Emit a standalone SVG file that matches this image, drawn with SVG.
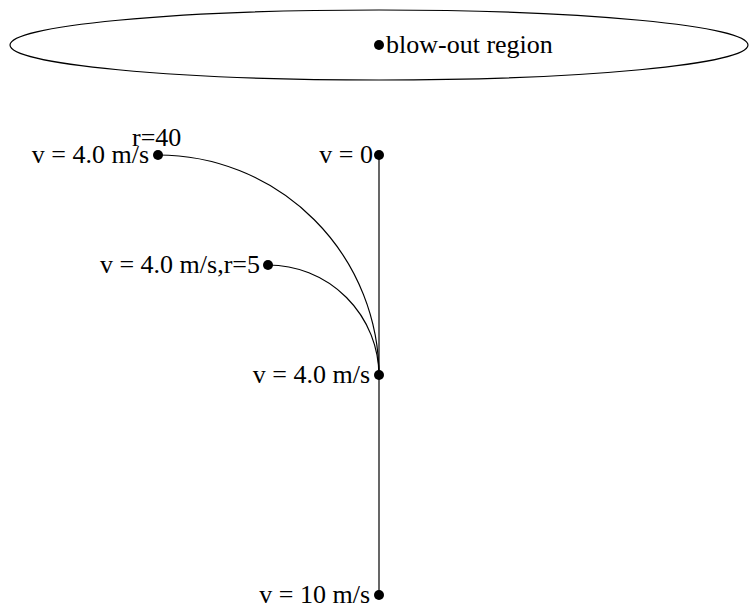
<svg xmlns="http://www.w3.org/2000/svg" width="751" height="608" viewBox="0 0 751 608">
<style>
.t{font-family:'Liberation Serif','Times New Roman',Times,serif;font-size:26px;fill:#000}
.e{fill:none;stroke:#000;stroke-width:1.2}
.d{fill:#000}
</style>
<rect width="751" height="608" fill="#fff"/>
<g id="blowout">
<ellipse class="e" cx="379" cy="45" rx="369" ry="35"/>
<circle class="d" cx="379" cy="45" r="5"/>
<text class="t" font-family="Liberation Serif, serif" x="386" y="53">blow-out region</text>
</g>
<g id="connectors">
<path class="e" d="M379,155 L379,595"/>
<path class="e" d="M158,155 A221,221 0 0 1 379,376"/>
<path class="e" d="M268,265 A111,111 0 0 1 379,376"/>
</g>
<g id="n_v0">
<circle class="d" cx="379" cy="155" r="5"/>
<text class="t" font-family="Liberation Serif, serif" x="373" y="163" text-anchor="end">v = 0</text>
</g>
<g id="n_r40">
<circle class="d" cx="158" cy="155" r="5"/>
<text class="t" font-family="Liberation Serif, serif" x="149" y="163" text-anchor="end">v = 4.0 m/s</text>
<text class="t" font-family="Liberation Serif, serif" x="132" y="146">r=40</text>
</g>
<g id="n_r5">
<circle class="d" cx="268" cy="265" r="5"/>
<text class="t" font-family="Liberation Serif, serif" x="260" y="273" text-anchor="end">v = 4.0 m/s,r=5</text>
</g>
<g id="n_v4">
<circle class="d" cx="379" cy="375" r="5"/>
<text class="t" font-family="Liberation Serif, serif" x="370" y="383" text-anchor="end">v = 4.0 m/s</text>
</g>
<g id="n_v10">
<circle class="d" cx="379" cy="595" r="5"/>
<text class="t" font-family="Liberation Serif, serif" x="370" y="603" text-anchor="end">v = 10 m/s</text>
</g>
</svg>
